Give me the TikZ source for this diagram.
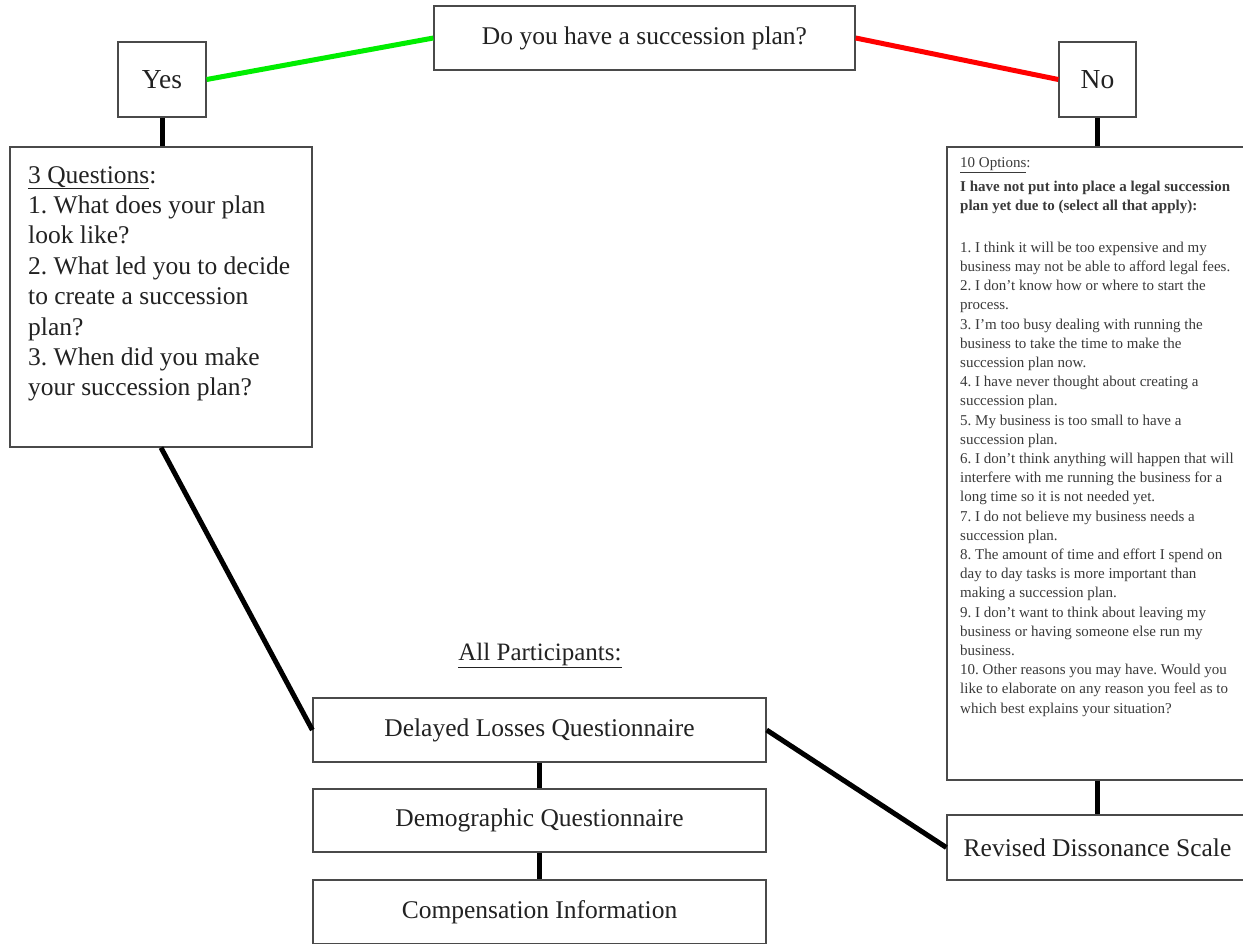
\documentclass[tikz,border=0pt]{standalone}
\usepackage{fontspec}
\setmainfont{Liberation Serif}
\frenchspacing
\definecolor{txt}{HTML}{222222}
\definecolor{smalltxt}{HTML}{3A3A3A}
\definecolor{bord}{HTML}{4A4A4A}
\definecolor{yesgreen}{HTML}{00EE00}
\definecolor{nored}{HTML}{FF0000}
\begin{document}
\begin{tikzpicture}[x=1pt,y=-1pt,
  box/.style={draw=bord,line width=1.3pt,fill=white,inner sep=0pt,text=txt,
    font=\fontsize{25.5}{30.4}\selectfont\frenchspacing},
  conn/.style={line width=5pt,black},
  label/.style={inner sep=0pt,text=txt}]
\useasboundingbox (0,0) rectangle (1243,943);
\fill[white] (0,0) rectangle (1243,943);
% boxes
\node[box,minimum width=421pt,minimum height=64pt] (q) at (644.5,38) {Do you have a succession plan?};
\node[box,minimum width=88pt,minimum height=75pt,font=\fontsize{27.5}{30}\selectfont] (yes) at (162,79.5) {Yes};
\node[box,minimum width=77pt,minimum height=75pt,font=\fontsize{27.5}{30}\selectfont] (no) at (1097.5,79.5) {No};
\node[box,minimum width=302pt,minimum height=300pt] (three) at (161,297) {};
\node[box,minimum width=301pt,minimum height=633pt] (opts) at (1097.5,463.5) {};
\node[box,minimum width=301pt,minimum height=65pt] (rev) at (1097.5,847.5) {Revised Dissonance Scale};
\node[box,minimum width=453pt,minimum height=64pt] (dl) at (539.5,730) {Delayed Losses Questionnaire};
\node[box,minimum width=453pt,minimum height=63pt] (demo) at (539.5,820.5) {Demographic Questionnaire};
\node[box,minimum width=453pt,minimum height=64pt] (comp) at (539.5,912) {Compensation Information};
% texts
\node[label,anchor=north west,align=left,font=\fontsize{25.5}{30.4}\selectfont\frenchspacing] (threetext) at (28,166)
 {\underline{3 Questions}:\\
  1. What does your plan\\
  look like?\\
  2. What led you to decide\\
  to create a succession\\
  plan?\\
  3. When did you make\\
  your succession plan?};
\node[label,anchor=north west,align=left,text=smalltxt,font=\fontsize{15}{19.2}\selectfont\frenchspacing] (optstext) at (960,157)
 {\underline{10 Options}:\\[4.8pt]
  \textbf{I have not put into place a legal succession}\\
  \textbf{plan yet due to (select all that apply):}\\
  \mbox{}\\[3.6pt]
  1. I think it will be too expensive and my\\
  business may not be able to afford legal fees.\\
  2. I don’t know how or where to start the\\
  process.\\
  3. I’m too busy dealing with running the\\
  business to take the time to make the\\
  succession plan now.\\
  4. I have never thought about creating a\\
  succession plan.\\
  5. My business is too small to have a\\
  succession plan.\\
  6. I don’t think anything will happen that will\\
  interfere with me running the business for a\\
  long time so it is not needed yet.\\
  7. I do not believe my business needs a\\
  succession plan.\\
  8. The amount of time and effort I spend on\\
  day to day tasks is more important than\\
  making a succession plan.\\
  9. I don’t want to think about leaving my\\
  business or having someone else run my\\
  business.\\
  10. Other reasons you may have. Would you\\
  like to elaborate on any reason you feel as to\\
  which best explains your situation?};
\node[label,font=\fontsize{25}{30}\selectfont] (allp) at (540,655) {\underline{All Participants:}};
% connectors
\draw[line width=5pt,yesgreen] (yes.east) -- (q.west);
\draw[line width=5pt,nored] (q.east) -- (no.west);
\draw[conn] (yes.south) -- (yes.south |- three.north);
\draw[conn] (no.south) -- (no.south |- opts.north);
\draw[conn] (three.south) -- (dl.west);
\draw[conn] (dl.east) -- (rev.west);
\draw[conn] (dl.south) -- (demo.north);
\draw[conn] (demo.south) -- (comp.north);
\draw[conn] (opts.south) -- (rev.north);
\end{tikzpicture}
\end{document}
